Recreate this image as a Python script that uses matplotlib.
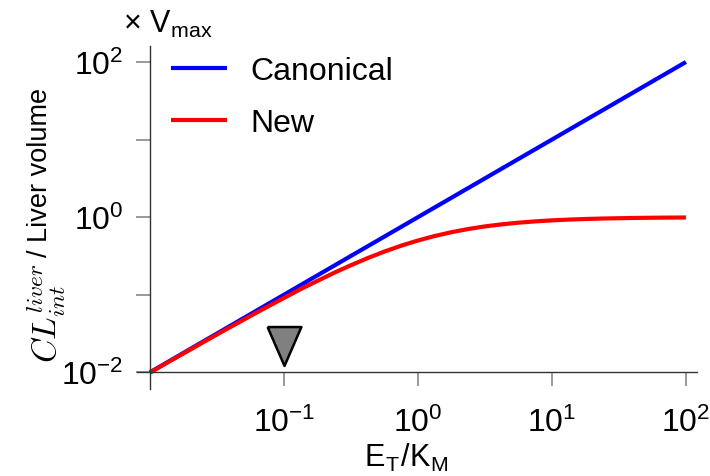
import matplotlib
matplotlib.use("Agg")
import matplotlib.pyplot as plt

plt.rcParams['font.family'] = ['Liberation Sans', 'DejaVu Sans']
plt.rcParams['mathtext.fontset'] = 'cm'

# E_T/K_M values and clearance (x Vmax)
et_km = [0.01, 0.0133, 0.0178, 0.0237, 0.0316, 0.0422, 0.0562, 0.075,
         0.1, 0.133, 0.178, 0.237, 0.316, 0.422, 0.562, 0.75,
         1.0, 1.33, 1.78, 2.37, 3.16, 4.22, 5.62, 7.5,
         10.0, 13.3, 17.8, 23.7, 31.6, 42.2, 56.2, 75.0, 100.0]
cl_new = [0.0099, 0.0132, 0.0175, 0.0232, 0.0307, 0.0405, 0.0532, 0.0698,
          0.0909, 0.118, 0.151, 0.192, 0.240, 0.297, 0.360, 0.429,
          0.500, 0.571, 0.640, 0.703, 0.760, 0.808, 0.849, 0.882,
          0.909, 0.930, 0.947, 0.960, 0.969, 0.977, 0.983, 0.987, 0.990]
canon_x = [0.01, 100.0]
canon_y = [0.01, 100.0]

# the grey triangle marker
tri_x = 0.1
tri_y = 0.0216

xticks = [0.1, 1, 10, 100]
yticks = [0.01, 0.1, 1, 10, 100]

fig = plt.figure(figsize=(7.1, 4.77), dpi=100)
ax = fig.add_axes([0.1925, 0.1824, 0.7887, 0.7197])

ax.plot(canon_x, canon_y, color='blue', lw=3, label='Canonical', solid_capstyle='butt')
ax.plot(et_km, cl_new, color='red', lw=3, label='New', solid_capstyle='butt')

tri = [(-0.87, 1), (0.87, 1), (0, -1), (-0.87, 1)]
ax.plot([tri_x], [tri_y], marker=tri, ms=28, mfc='#808080', mec='black',
        mew=1.8, ls='none', clip_on=False)

ax.set_xscale('log')
ax.set_yscale('log')
ax.set_xlim(10**-2.099, 10**2.08)
ax.set_ylim(10**-2.215, 10**2.21)

ax.spines['top'].set_visible(False)
ax.spines['right'].set_visible(False)
ax.spines['left'].set_position(('data', 0.01))
ax.spines['bottom'].set_position(('data', 0.01))
for s in ['left', 'bottom']:
    ax.spines[s].set_color('#333333')
    ax.spines[s].set_linewidth(1.0)

ax.set_xticks(xticks)
ax.set_yticks(yticks)
ax.set_yticklabels(['$\\mathdefault{10^{-2}}$', '', '$\\mathdefault{10^{0}}$', '',
                    '$\\mathdefault{10^{2}}$'])
ax.minorticks_off()
ax.tick_params(axis='both', direction='out', length=10, width=1.2,
               color='#888888', labelsize=23)
ax.tick_params(axis='x', pad=15)
ax.tick_params(axis='y', pad=9)

leg = ax.legend(loc='upper left', bbox_to_anchor=(171 / 710, 1 - 57 / 477),
                bbox_transform=fig.transFigure, frameon=False, fontsize=23,
                handlelength=1.75, handletextpad=0.72, labelspacing=0.7,
                borderpad=0, borderaxespad=0)

fig.text(123 / 710, 1 - 33 / 477, '× V$_\\mathregular{max}$', fontsize=22,
         ha='left', va='baseline')
fig.text(406 / 710, 1 - 467 / 477, 'E$_\\mathregular{T}$/K$_\\mathregular{M}$',
         fontsize=22, ha='center', va='baseline')

# y label: math part drawn larger than the plain text, as in the source
fig.text(57 / 710, 1 - 363 / 477, '$CL_{int}^{liver}$', fontsize=24,
         rotation=90, rotation_mode='anchor', ha='left', va='baseline')
fig.text(47 / 710, 1 - 257 / 477, '/ Liver volume', fontsize=19.5,
         rotation=90, rotation_mode='anchor', ha='left', va='baseline')

# red fragment cut by the lower edge
fig.text(575 / 710, 1 - 505 / 477, 'M', color='red', fontsize=26,
         fontweight='bold', ha='left', va='baseline')

fig.savefig('out.png', dpi=100)
